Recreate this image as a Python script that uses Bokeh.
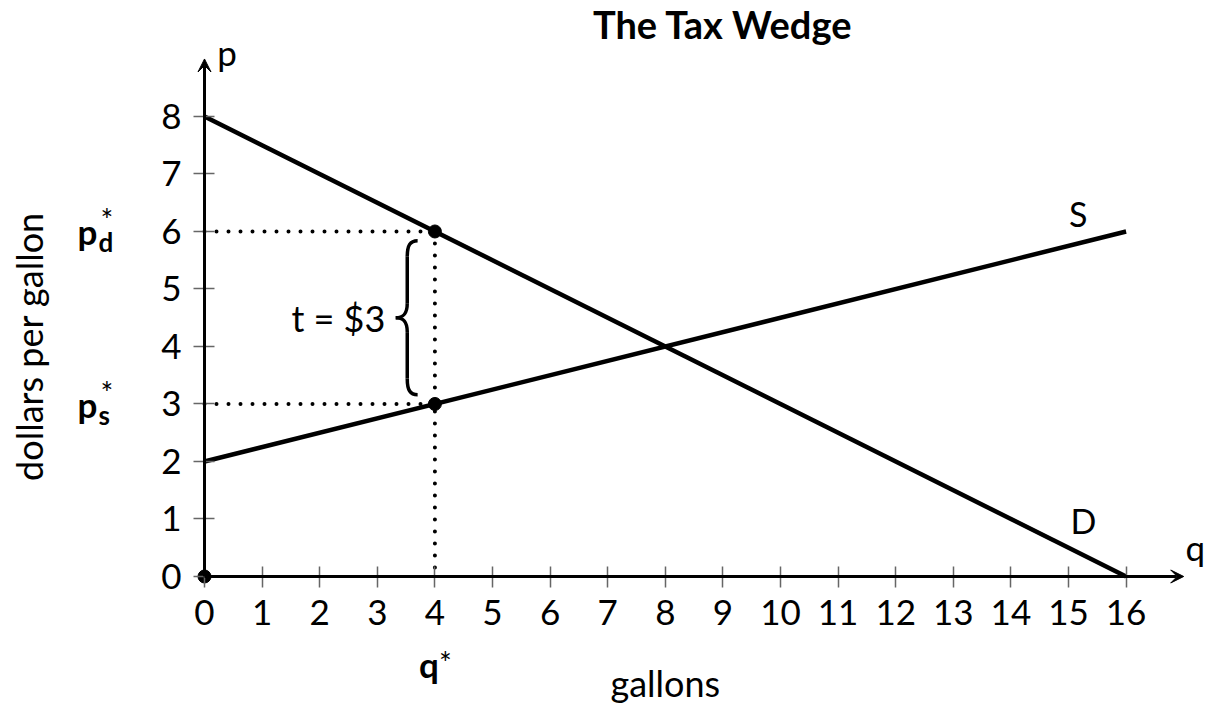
import math
from bokeh.plotting import figure
from bokeh.models import Range1d, FixedTicker, Arrow, VeeHead, Label
from bokeh.embed import file_html
from bokeh.resources import INLINE

# ---- data ----
quantity = [0, 16]
demand = [8, 0]
supply = [2, 6]
q_star = 4
p_d = 6
p_s = 3
tax_label = "t = $3"
x_ticks = list(range(0, 17))
y_ticks = list(range(0, 9))

FONT = "Lato"

p = figure(width=1207, height=711,
           min_border_left=0, min_border_right=0,
           min_border_top=0, min_border_bottom=0,
           x_range=Range1d(-3.5417, 17.4132), y_range=Range1d(-2.348, 10.017),
           output_backend="svg", toolbar_location=None)
p.grid.visible = False
p.outline_line_color = None
p.background_fill_color = "white"
p.border_fill_color = "white"

xa = p.xaxis[0]
ya = p.yaxis[0]
for ax, ticks in ((xa, x_ticks), (ya, y_ticks)):
    ax.fixed_location = 0
    ax.ticker = FixedTicker(ticks=ticks)
    ax.major_tick_in = 10
    ax.major_tick_out = 11
    ax.major_tick_line_color = "#666666"
    ax.major_tick_line_width = 1.5
    ax.minor_tick_line_color = None
    ax.axis_line_color = None
    ax.major_label_text_font = FONT
    ax.major_label_text_font_size = "35px"
    ax.major_label_text_color = "black"
xa.major_label_standoff = 13
ya.major_label_standoff = 12

# axes with arrows
for xe, ye in ((17, 0), (0, 9)):
    p.add_layout(Arrow(end=VeeHead(size=13, line_color="black", fill_color="black", line_width=1),
                       x_start=0, y_start=0, x_end=xe, y_end=ye,
                       line_width=3, line_color="black"))

# dotted guide lines
dot = dict(line_dash="0 12", line_cap="round", line_width=4, line_color="black")
p.line([0, q_star], [p_d, p_d], **dot)
p.line([0, q_star], [p_s, p_s], **dot)
p.line([q_star, q_star], [p_d, 0], **dot)

# supply & demand
p.line(quantity, demand, line_width=4.5, line_color="black")
p.line(quantity, supply, line_width=4.5, line_color="black")

# points
p.scatter([0, q_star, q_star], [0, p_d, p_s], size=13, color="black")

# curly brace between p_s and p_d, left of q*
mid = (p_d + p_s) / 2
x_end = q_star - 0.30
x_body = q_star - 0.48
x_tip = q_star - 0.68
y_top = p_d - 0.16
y_bot = p_s + 0.16
r = 0.28
p.bezier(x0=[x_end, x_body, x_body, x_body],
         y0=[y_top, mid + 0.25, mid - 0.25, y_bot + r],
         x1=[x_body, x_tip, x_tip, x_end],
         y1=[y_top - r, mid, mid, y_bot],
         cx0=[x_body + 0.05, x_body, x_body, x_body],
         cy0=[y_top, mid + 0.05, mid - 0.05, y_bot + 0.08],
         cx1=[x_body, x_body - 0.08, x_body - 0.08, x_body + 0.05],
         cy1=[y_top - 0.08, mid, mid, y_bot],
         line_width=3.5, line_color="black")
p.segment(x0=[x_body, x_body], y0=[y_top - r, mid - 0.25],
          x1=[x_body, x_body], y1=[mid + 0.25, y_bot + r],
          line_width=3.5, line_color="black")

def lab(text, x, y, size="34px", style="normal", align="left", base="alphabetic", xo=0, yo=0, angle=0):
    p.add_layout(Label(x=x, y=y, text=text, text_font=FONT, text_font_size=size,
                       text_font_style=style, text_align=align, text_baseline=base,
                       x_offset=xo, y_offset=yo, angle=angle, text_color="black"))

lab(tax_label, x_tip - 0.18, mid, size="36px", align="right", base="middle")
lab("S", 15.17, 6.31, align="center", base="middle")
lab("D", 15.26, 0.97, align="center", base="middle")
lab("p", 0.22, 9.13, size="35px")
lab("q", 17.03, 0.52, size="35px")
lab("The Tax Wedge", 9.0, 9.6, size="38px", style="bold", align="center", base="middle")
lab("gallons", 8.0, -1.86, size="36px", align="center", base="middle")
lab("dollars per gallon", -3.04, 4.0, size="36px", align="center", base="middle", angle=math.pi / 2)

# starred price / quantity labels
for sub, yv in (("d", p_d), ("s", p_s)):
    lab("p", 0, yv, size="35px", style="bold", xo=-127, yo=0)
    lab(sub, 0, yv, size="26px", style="bold", xo=-106, yo=-11)
    lab("*", 0, yv, size="30px", xo=-104, yo=12)
lab("q", q_star, 0, size="35px", style="bold", xo=-16, yo=-88)
lab("*", q_star, 0, size="30px", xo=4, yo=-86)

open("out.html", "w").write(file_html(p, INLINE))
